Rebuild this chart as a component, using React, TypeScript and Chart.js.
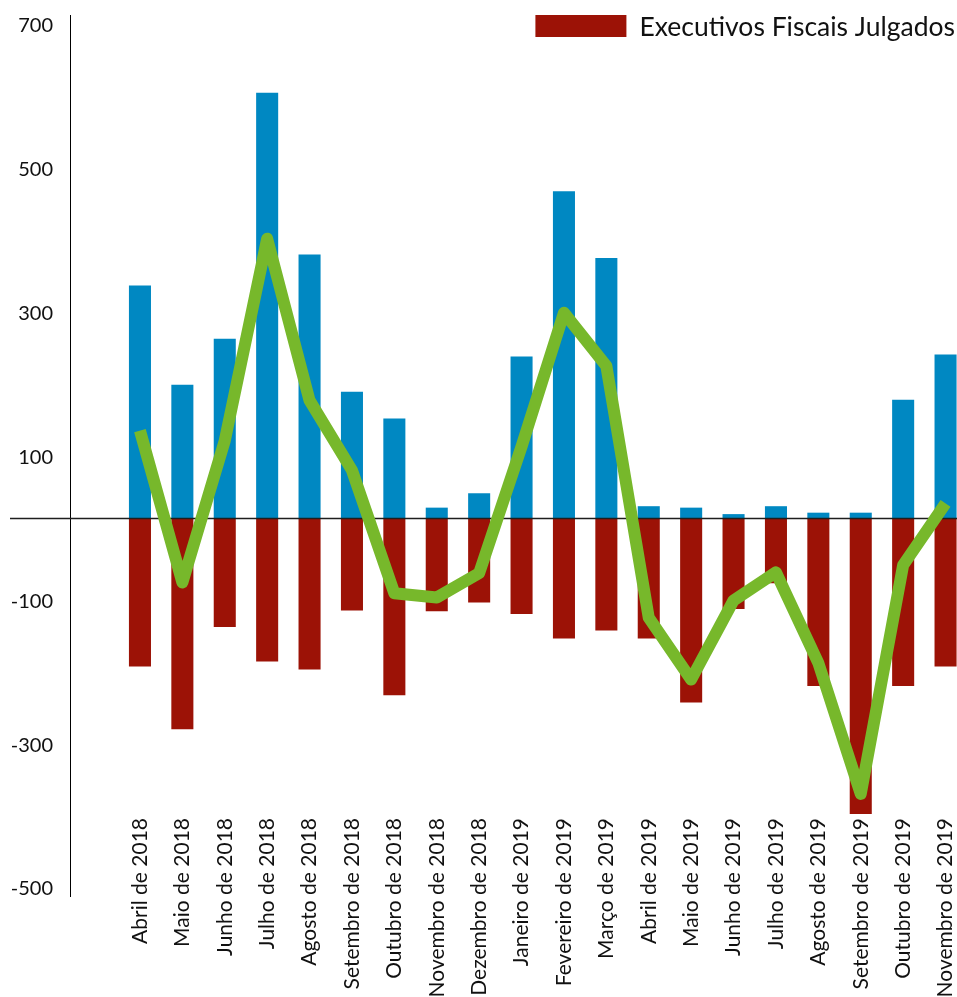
import React, { useEffect, useRef } from "react";
import { Chart, registerables } from "chart.js";

Chart.register(...registerables);

const categories = [
  "Abril de 2018", "Maio de 2018", "Junho de 2018", "Julho de 2018", "Agosto de 2018",
  "Setembro de 2018", "Outubro de 2018", "Novembro de 2018", "Dezembro de 2018",
  "Janeiro de 2019", "Fevereiro de 2019", "Março de 2019", "Abril de 2019", "Maio de 2019",
  "Junho de 2019", "Julho de 2019", "Agosto de 2019", "Setembro de 2019", "Outubro de 2019",
  "Novembro de 2019",
];

const distribuidos = [324, 186, 250, 592, 367, 176, 139, 15, 35, 225, 455, 362, 17, 15, 6, 17, 8, 8, 165, 228];
const julgados = [-206, -293, -151, -199, -210, -128, -246, -129, -117, -133, -167, -156, -167, -256, -126, -90, -233, -411, -233, -206];
const saldo = [122, -89, 108, 389, 164, 67, -104, -110, -76, 100, 286, 212, -138, -224, -114, -75, -201, -383, -65, 21];

const yTicks = [-500, -300, -100, 100, 300, 500, 700];

const BLUE = "#0088c2";
const RED = "#9c1206";
const GREEN = "#77b82b";
const FONT = "Lato, 'Noto Sans', sans-serif";

const toPoints = (arr: number[]) => arr.map((v, i) => ({ x: i, y: v }));

const overlayPlugin = {
  id: "overlay",
  beforeDatasetDraw(chart: any, args: any) {
    if (args.index !== 2) return;
    const { ctx, chartArea } = chart;
    const y = chart.scales.y.getPixelForValue(0);
    ctx.save();
    ctx.strokeStyle = "#1e1e1e";
    ctx.lineWidth = 1.5;
    ctx.beginPath();
    ctx.moveTo(10, y);
    ctx.lineTo(chartArea.right, y);
    ctx.stroke();
    ctx.restore();
  },
  afterDraw(chart: any) {
    const { ctx } = chart;
    const ds = chart.data.datasets[1];
    ctx.save();
    ctx.font = `26.5px ${FONT}`;
    ctx.fillStyle = "#111";
    ctx.textAlign = "right";
    ctx.textBaseline = "middle";
    const right = 955;
    ctx.fillText(ds.label, right, 27);
    const w = ctx.measureText(ds.label).width;
    const boxRight = right - w - 13;
    ctx.fillStyle = ds.backgroundColor;
    ctx.fillRect(boxRight - 91, 15, 91, 22);
    ctx.restore();
  },
};

export default function App() {
  const ref = useRef<HTMLCanvasElement | null>(null);
  useEffect(() => {
    if (!ref.current) return;
    const chart = new Chart(ref.current, {
      type: "bar",
      data: {
        datasets: [
          {
            type: "bar",
            label: "Executivos Fiscais Distribuídos",
            data: toPoints(distribuidos),
            backgroundColor: BLUE,
            grouped: false,
            barPercentage: 0.52,
            categoryPercentage: 1,
            order: 2,
          } as any,
          {
            type: "bar",
            label: "Executivos Fiscais Julgados",
            data: toPoints(julgados),
            backgroundColor: RED,
            grouped: false,
            barPercentage: 0.52,
            categoryPercentage: 1,
            order: 1,
          } as any,
          {
            type: "line",
            label: "Saldo",
            data: toPoints(saldo),
            borderColor: GREEN,
            borderWidth: 12,
            borderJoinStyle: "round",
            borderCapStyle: "butt",
            pointRadius: 0,
            tension: 0,
            fill: false,
            order: 0,
          } as any,
        ],
      },
      options: {
        animation: false,
        responsive: false,
        layout: { padding: { top: 15, left: 0, right: 0, bottom: 0 } },
        plugins: {
          legend: { display: false },
          tooltip: { enabled: false },
        },
        scales: {
          x: {
            type: "linear",
            min: -1.65,
            max: 19.27,
            offset: false,
            grid: { display: false, drawTicks: false },
            border: { display: false },
            afterBuildTicks: (scale: any) => {
              scale.ticks = categories.map((_, i) => ({ value: i }));
            },
            afterFit: (scale: any) => {
              scale.height = 101;
              scale.paddingLeft = 0;
              scale.paddingRight = 0;
              scale._computeLabelArea = () => undefined;
            },
            ticks: {
              autoSkip: false,
              minRotation: 90,
              maxRotation: 90,
              padding: -78,
              color: "#111",
              font: { family: FONT, size: 21 },
              callback: (v: any) => categories[v] ?? "",
            },
          },
          y: {
            type: "linear",
            min: -525,
            max: 700,
            grid: { display: false, drawTicks: false },
            border: { display: true, color: "#000", width: 1 },
            afterBuildTicks: (scale: any) => {
              scale.ticks = yTicks.map((v) => ({ value: v }));
            },
            afterFit: (scale: any) => {
              scale.width = 70;
              scale.paddingTop = 0;
              scale.paddingBottom = 0;
            },
            ticks: {
              padding: 17,
              labelOffset: 11,
              color: "#111",
              font: { family: FONT, size: 20 },
              callback: (v: any) => String(v),
            },
          },
        },
      },
      plugins: [overlayPlugin],
    });
    return () => chart.destroy();
  }, []);
  return (
    <div style={{ position: "absolute", left: 0, top: 0, width: 957, height: 997, background: "#fff" }}>
      <canvas ref={ref} width={957} height={997} style={{ display: "block" }} />
    </div>
  );
}
